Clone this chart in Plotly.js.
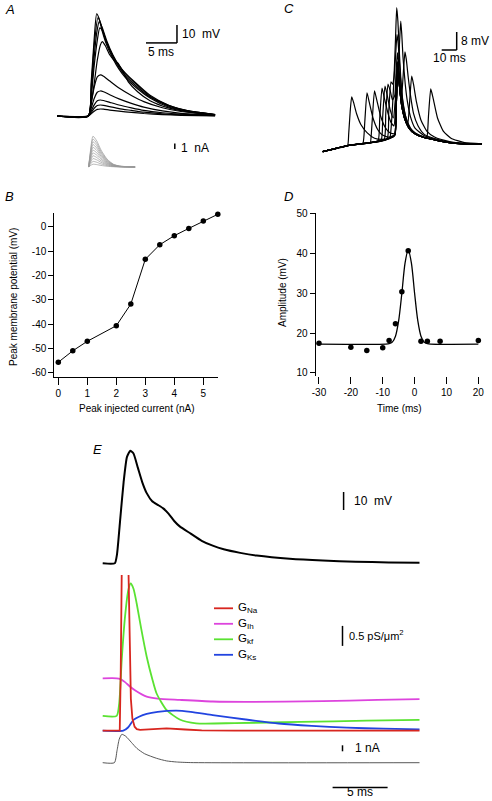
<!DOCTYPE html>
<html><head><meta charset="utf-8">
<script src="https://cdn.plot.ly/plotly-3.0.1.min.js"></script>
<style>html,body{margin:0;padding:0;background:#fff}#plot{width:492px;height:801px}</style>
</head><body><div id="plot"></div>
<script>
// ---------------- DATA ----------------
// Panel A: membrane responses (ms, mV above rest)
const aTimes = [
  [0,5.05,5.5,6.0,6.5,7.0,7.5,8.5,10,12,14,17,20,25.5],
  [0,5.05,5.5,6.0,6.5,7.0,7.5,8.5,10,12,14,17,20,25.5],
  [0,5.05,5.5,6.0,6.5,7.0,7.5,8.5,10,12,14,17,20,25.5],
  [0,5.05,5.5,6.0,6.5,7.0,7.5,8.5,10,12,14,17,20,25.5],
  [0,5.05,5.5,6.0,6.5,7.0,7.5,8.5,10,12,14,17,20,25.5],
  [0,5.05,5.5,6.0,6.5,7.0,7.3,7.8,8.5,9.2,9.8,10.5,11.5,13,15,18,21,25.5],
  [0,5.05,5.5,6.0,6.5,6.9,7.4,8,9,10,11,12.5,15,18,21,25.5],
  [0,5.05,5.5,6.0,6.4,6.8,7.3,8,9,10,11,12.5,15,18,21,25.5],
  [0,5.05,5.5,6.0,6.6,7.0,7.5,8,9,10,11,12.5,15,18,21,25.5],
  [0,5.05,5.5,6.0,6.4,6.8,7.3,8,9,10,11,12.5,15,18,21,25.5]
];
const aVolts = [
  [0,0,1.2,2.7,3.7,3.9,3.8,3.3,2.7,2.0,1.4,0.8,0.4,0.1],
  [0,0,1.8,4.3,5.8,6.1,5.9,5.2,4.1,3.1,2.1,1.2,0.7,0.2],
  [0,0,2.7,6.2,8.5,8.9,8.6,7.6,6.1,4.5,3.1,1.8,1.0,0.3],
  [0,0,4.2,9.7,13.2,13.9,13.5,11.8,9.5,7.0,4.9,2.8,1.5,0.4],
  [0,0,6.8,16,21.7,22.8,22.1,19.4,15.5,11.4,8.0,4.6,2.5,0.7],
  [0,0,7,18,31,39.5,41.3,39,34,31,29.5,25.5,19,13.5,8.5,4.5,2.3,0.6],
  [0,0,10,28,42,49,47,41,33.5,28,23.5,18.5,11,6,3,0.8],
  [0,0,12,33,46,52.4,49,42,34,28,24,19,11.5,6,3,0.8],
  [0,0,15,39,54.6,52,46,41,33,27,22.5,17.5,10.5,5.5,2.8,0.8],
  [0,0,18,43,56.8,54,47,39.5,32,26,21.5,16.5,10,5,2.6,0.7]
];
// Panel A: injected currents (ms, nA)
const aStimT = [5.1,5.35,5.8,6.4,7.1,8.1,9.1,10.1,12.6];
const aStimI = [
  [0,0.23,0.5,0.43,0.28,0.13,0.05,0.02,0],
  [0,0.45,1,0.85,0.55,0.25,0.09,0.03,0],
  [0,0.68,1.5,1.28,0.83,0.38,0.14,0.05,0],
  [0,0.9,2,1.7,1.1,0.5,0.18,0.06,0],
  [0,1.13,2.5,2.13,1.38,0.63,0.23,0.08,0],
  [0,1.35,3,2.55,1.65,0.75,0.27,0.09,0],
  [0,1.58,3.5,2.98,1.93,0.88,0.32,0.11,0],
  [0,1.8,4,3.4,2.2,1,0.36,0.12,0],
  [0,2.03,4.5,3.83,2.48,1.13,0.41,0.14,0],
  [0,2.25,5,4.25,2.75,1.25,0.45,0.15,0],
  [0,2.48,5.5,4.68,3.03,1.38,0.5,0.17,0]
];
// Panel B
const bCurrent = [0,0.5,1,2,2.5,3,3.5,4,4.5,5,5.5];
const bPeak = [-55.7,-51.0,-47.1,-40.7,-31.8,-13.4,-7.4,-3.7,-0.7,2.3,5.1];
const bXTicks = [0,1,2,3,4,5];
const bYTicks = [-60,-50,-40,-30,-20,-10,0];
const bYTickText = ['-60','-50','-40','-30','-20','-10','0'];
// Panel C: ramp + EPSP at different timings (ms rel. to ramp peak, mV)
const cTimes = [
  [-49.5,-40,-33,-32.2,-31.2,-30.2,-29,-27,-24,-20,-15,-10,-6,-3,-1.3,-0.5,0.5,1.5,3,5,8,12,18,25,35,45,56.7],
  [-49.5,-40,-33,-25,-22.7,-21.5,-20,-18.5,-16,-13,-10,-6,-3,-1.3,-0.5,0.5,1.5,3,5,8,12,18,25,35,45,56.7],
  [-49.5,-33,-25,-18,-17.7,-16.5,-15,-13.5,-11,-8,-5,-3,-1.3,-0.5,0.5,1.5,3,5,8,12,18,25,35,45,56.7],
  [-49.5,-33,-20,-12.7,-11.5,-10,-8.5,-6,-4,-2,-1,0,0.6,1.5,3,5,8,12,18,25,35,45,56.7],
  [-49.5,-33,-20,-10.7,-9.5,-8,-6.5,-4.5,-2.5,-1,0,0.6,1.5,3,5,8,12,18,25,35,45,56.7],
  [-49.5,-33,-20,-8.7,-7.5,-6,-4.5,-3,-1.5,-0.5,0.3,1.2,2.5,4,6,9,12,18,25,35,45,56.7],
  [-49.5,-33,-20,-6.7,-5.5,-4,-3,-2,-1,0,0.8,1.8,3,4.5,6.5,9,12,18,25,35,45,56.7],
  [-49.5,-33,-20,-5,-4,-3,-2,-1,-0.2,0.6,1.5,2.5,4,6,9,12,18,25,35,45,56.7],
  [-49.5,-33,-20,-10,-4,-2,-1.3,-0.5,0,0.3,1,1.8,2.5,3.2,4,5.5,7,9,12,18,25,35,45,56.7],
  [-49.5,-33,-20,-10,-4,-2,-1.3,-0.5,0.5,1.5,2.6,3.5,4.5,5.3,6.2,7.5,9,11,14,18,25,35,45,56.7],
  [-49.5,-33,-20,-10,-4,-2,-1.3,-0.5,0.5,1.5,3,5,7.1,8.3,9.8,11,13,16,20,25,35,45,56.7],
  [-49.5,-33,-20,-10,-4,-2,-1.3,-0.5,0.5,1.5,3,5,8,12,18,19.8,21,22.5,24,27,31,36,45,56.7]
];
const cVolts = [
  [0,1.5,2.7,8,18,24.4,22,17,12,8.5,6,5.5,5.9,6.7,7.6,20,37,30,21,15,10.5,8,6.3,5.3,4.0,3.5,3.4],
  [0,1.5,2.7,3.5,3.8,13,26.2,22,15,10,7.5,6.5,7,7.8,20,37,30,21,15,10.5,8,6.3,5.3,4.0,3.5,3.4],
  [0,2.7,3.5,4.1,4.1,14,27.1,23,16,11,8.5,8,8.2,21,37.5,30.5,21,15,10.5,8,6.3,5.3,4.0,3.5,3.4],
  [0,2.7,3.8,4.7,15,28.3,24,17,13,11.5,22,36,38.5,31,21.5,15,10.5,8,6.3,5.3,4.0,3.5,3.4],
  [0,2.7,3.8,4.9,16,29.2,25,18.5,15,24,38,40,32,22,15.5,10.7,8,6.3,5.3,4.0,3.5,3.4],
  [0,2.7,3.8,5.2,17,30.1,27,23,25,37,44,38,27,19,13.5,9.5,8,6.3,5.3,4.0,3.5,3.4],
  [0,2.7,3.8,5.5,18,31.1,30,33,42,52,48,38,27,19.5,14,10,8.2,6.4,5.3,4.0,3.5,3.4],
  [0,2.7,3.8,5.8,10,20,33,50,64,58,45,33,22,15,10.5,8.4,6.5,5.4,4.0,3.5,3.4],
  [0,2.7,3.8,5.0,6.2,7.0,7.6,20,33,37,40,50,58,52,42,30,22,15.5,10.5,7.2,5.6,4.2,3.6,3.4],
  [0,2.7,3.8,5.0,6.2,7.0,7.6,20,37,30,23,28,38,44.4,41,33,25,17,11.5,7.8,5.8,4.2,3.6,3.4],
  [0,2.7,3.8,5.0,6.2,7.0,7.6,20,37,30,21,15,12,21,33.6,30,22,14,9,6.5,4.5,3.7,3.4],
  [0,2.7,3.8,5.0,6.2,7.0,7.6,20,37,30,21,15,10.5,8,6.3,6.0,16,27.9,24,15,9,6,4,3.5]
];
// Panel D
const dTime = [-30,-20,-15,-10,-8,-6,-4,-2,2,4,8,20];
const dAmp = [17.4,16.4,15.6,16.3,18.1,22.3,30.4,40.7,17.9,17.9,17.9,18.1];
const dFitT = [-30,-9,-8,-7,-6,-5,-4,-3,-2,-1,0,1,2,3,4,5,20];
const dFitA = [17.2,17.2,17.3,17.7,19.2,23.1,30.0,37.6,41.0,37.6,30.0,23.1,19.2,17.7,17.3,17.2,17.2];
const dXTicks = [-30,-20,-10,0,10,20];
const dXTickText = ['-30','-20','-10','0','10','20'];
const dYTicks = [10,20,30,40,50];
// Panel E: voltage (ms, mV)
const eT = [0,1.1,1.3,1.6,1.9,2.2,2.5,2.8,3.2,3.6,4.0,4.5,5.0,5.5,6.0,6.5,7.0,8.0,9.0,10,11,12.5,14,17,20,23,26,28.8];
const eV = [0,0,5,25,45,59,62.5,61,53,45,39,34.5,32.5,30.5,27.5,23.5,20.5,16.5,12.5,9.8,7.8,5.8,4.3,2.5,1.5,0.9,0.5,0.3];
// Panel E: conductances (ms, pS/um2)
const gNaT = [0,1.55,1.64,1.75,2.0,2.35,2.48,2.56,2.7,2.9,3.1,3.4,4.5,5.8,7.5,9,12,28.8];
const gNa  = [0,0,1.5,4.5,9,4.5,2.0,0.8,0.3,0.1,0.04,0.02,0.03,0.06,0.03,0.01,0,0];
const gIhT = [0,1.27,1.6,2.0,2.5,3.0,4.0,5.0,7.0,10,13,20,25,28.8];
const gIh  = [1.31,1.31,1.29,1.22,1.1,1.0,0.85,0.8,0.77,0.73,0.72,0.74,0.77,0.79];
const gKfT = [0,1.27,1.5,1.73,2.03,2.33,2.54,2.8,3.09,3.5,4.0,4.5,4.9,5.8,7.0,8.5,12,18,24,28.8];
const gKf  = [0.37,0.37,0.68,1.77,2.85,3.52,3.68,3.55,3.18,2.55,1.85,1.3,0.93,0.52,0.28,0.185,0.19,0.22,0.25,0.27];
const gKsT = [0,1.87,2.3,2.8,3.3,4.0,5.0,6.7,8,10,13,16,19,22.2,25.5,28.8];
const gKs  = [0,0,0.08,0.27,0.35,0.42,0.47,0.5,0.47,0.39,0.28,0.18,0.12,0.075,0.05,0.035];
// Panel E: injected current (ms, nA)
const eIT = [0,1.06,1.3,1.5,1.74,2.1,2.6,3.1,3.8,4.9,5.8,6.7,8,28.8];
const eI  = [0,0,2.0,3.9,4.73,4.4,3.4,2.4,1.5,0.73,0.3,0.12,0.02,0];
const gNames = ['G<sub>Na</sub>','G<sub>Ih</sub>','G<sub>kf</sub>','G<sub>Ks</sub>'];
const gColors = ['#d8261f','#dd44dd','#5ae232','#2244e0'];

// ---------------- LAYOUT HELPERS ----------------
const W = 492, H = 801;
const FONT = 'Liberation Sans, Arial, Helvetica, sans-serif';
function xAx(p0, p1, origin, ppu, extra) {
  return Object.assign({domain:[p0/W, p1/W], range:[(p0-origin)/ppu, (p1-origin)/ppu],
    visible:false, fixedrange:true, showgrid:false, zeroline:false}, extra||{});
}
function yAx(p0, p1, origin, ppu, extra) {
  return Object.assign({domain:[1-p1/H, 1-p0/H], range:[(origin-p1)/ppu, (origin-p0)/ppu],
    visible:false, fixedrange:true, showgrid:false, zeroline:false}, extra||{});
}
function ann(text, x, y, o) {
  o = o || {};
  return {text:text, xref:'paper', yref:'paper', x:x/W, y:1-y/H,
    xanchor:o.xa||'left', yanchor:o.ya||'middle', showarrow:false, textangle:o.angle||0,
    font:{family:FONT, size:o.size||12, color:'#000'}};
}
function bar(xref, yref, x0, y0, x1, y1, w) {
  return {type:'line', xref:xref, yref:yref, x0:x0, y0:y0, x1:x1, y1:y1,
    line:{color:'#000', width:w||1.5}};
}
const visAxis = {visible:true, showline:true, linecolor:'#000', linewidth:1, ticks:'outside',
  tickcolor:'#000', tickwidth:1, tickfont:{family:FONT, size:10, color:'#000'}, tickmode:'array'};

// ---------------- TRACES ----------------
const traces = [];
aTimes.forEach((t, i) => traces.push({x:t, y:aVolts[i], xaxis:'x', yaxis:'y', mode:'lines',
  line:{color:'#000', width:1.2, shape:'spline', smoothing:0.6}, hoverinfo:'skip', showlegend:false}));
aStimI.forEach(v => traces.push({x:aStimT, y:v, xaxis:'x', yaxis:'y2', mode:'lines',
  line:{color:'#9a9a9a', width:0.7, shape:'spline', smoothing:0.6}, hoverinfo:'skip', showlegend:false}));
cTimes.forEach((t, i) => traces.push({x:t, y:cVolts[i], xaxis:'x2', yaxis:'y3', mode:'lines',
  line:{color:'#000', width:1.2, shape:'spline', smoothing:0.5}, hoverinfo:'skip', showlegend:false}));
traces.push({x:bCurrent, y:bPeak, xaxis:'x3', yaxis:'y4', mode:'lines+markers', cliponaxis:false,
  line:{color:'#000', width:1}, marker:{color:'#000', size:5.5}, showlegend:false});
traces.push({x:dFitT, y:dFitA, xaxis:'x4', yaxis:'y5', mode:'lines',
  line:{color:'#000', width:1.3, shape:'spline', smoothing:0.8}, showlegend:false});
traces.push({x:dTime, y:dAmp, xaxis:'x4', yaxis:'y5', mode:'markers', cliponaxis:false,
  marker:{color:'#000', size:5.5}, showlegend:false});
traces.push({x:eT, y:eV, xaxis:'x5', yaxis:'y6', mode:'lines',
  line:{color:'#000', width:2, shape:'spline', smoothing:0.5}, showlegend:false});
const gT = [gNaT, gIhT, gKfT, gKsT], gV = [gNa, gIh, gKf, gKs];
[1,2,3,0].forEach(i => traces.push({x:gT[i], y:gV[i], xaxis:'x5', yaxis:'y7', mode:'lines',
  line:{color:gColors[i], width:1.8, shape: i===0 ? 'linear' : 'spline', smoothing:0.6},
  showlegend:false}));
traces.push({x:eIT, y:eI, xaxis:'x5', yaxis:'y8', mode:'lines',
  line:{color:'#444', width:0.9, shape:'spline', smoothing:0.6}, showlegend:false});

// ---------------- AXES ----------------
const layout = {
  width:W, height:H, margin:{l:0, r:0, t:0, b:0, autoexpand:false},
  paper_bgcolor:'#fff', plot_bgcolor:'rgba(0,0,0,0)', showlegend:false,
  font:{family:FONT, size:10, color:'#000'},
  // A
  xaxis:  xAx(50, 232, 57, 6.2, {anchor:'y'}),
  yaxis:  yAx(5, 122, 116, 1.8, {anchor:'x'}),
  yaxis2: yAx(125, 172, 167, 5.6, {anchor:'x'}),
  // C
  xaxis2: xAx(315, 492, 397, 1.5, {anchor:'y3'}),
  yaxis3: yAx(0, 160, 151.7, 2.25, {anchor:'x2'}),
  // B
  xaxis3: xAx(54.3, 218, 58.3, 29, Object.assign({}, visAxis, {anchor:'y4', ticklen:7,
           tickvals:bXTicks, ticktext:bXTicks.map(String)})),
  yaxis4: yAx(213.3, 377.3, 226.7, 2.433, Object.assign({}, visAxis, {anchor:'x3', ticklen:5,
           tickvals:bYTicks, ticktext:bYTickText})),
  // D
  xaxis4: xAx(315.7, 480.5, 414.6, 3.187, Object.assign({}, visAxis, {anchor:'y5', showline:false,
           ticklen:7, tickvals:dXTicks, ticktext:dXTickText})),
  yaxis5: yAx(213.2, 376, 412.4, 3.97, Object.assign({}, visAxis, {anchor:'x4', ticklen:5,
           tickvals:dYTicks, ticktext:dYTicks.map(String)})),
  // E
  xaxis5: xAx(95, 445, 102.7, 11, {anchor:'y6'}),
  yaxis6: yAx(440, 570, 563.3, 1.8, {anchor:'x5'}),
  yaxis7: yAx(575, 735, 730.7, 40, {anchor:'x5'}),
  yaxis8: yAx(733, 775, 762.7, 6, {anchor:'x5'}),
  shapes: [
    // A scale bars: 10 mV, 5 ms, 1 nA
    bar('x','y', 19.35, 40.6, 19.35, 50.6),
    bar('x','y', 14.35, 40.6, 19.35, 40.6),
    bar('x','y2', 19.0, 3.2, 19.0, 4.2),
    // C scale bars: 8 mV, 10 ms
    bar('x2','y3', 39.8, 45.2, 39.8, 53.2),
    bar('x2','y3', 29.8, 45.2, 39.8, 45.2),
    // E scale bars: 10 mV, 0.5 pS/um2, 1 nA, 5 ms
    bar('x5','y6', 21.9, 29.6, 21.9, 39.6),
    bar('x5','y7', 21.8, 2.12, 21.8, 2.62),
    bar('x5','y8', 21.8, 1.9, 21.8, 2.9),
    {type:'line', xref:'x5', yref:'paper', x0:20.9, x1:25.9, y0:1-787.5/H, y1:1-787.5/H, line:{color:'#000', width:1.5}},
    // legend swatches
    ...gColors.map((c, i) => ({type:'line', xref:'paper', yref:'paper',
      x0:214/W, x1:233/W, y0:1-(608.3+15.5*i)/H, y1:1-(608.3+15.5*i)/H, line:{color:c, width:1.8}}))
  ],
  annotations: [
    ann('<i>A</i>', 3, 9, {size:13}),
    ann('<i>C</i>', 282, 8, {size:13}),
    ann('<i>B</i>', 3, 197, {size:13}),
    ann('<i>D</i>', 282, 197, {size:13}),
    ann('<i>E</i>', 91, 449, {size:13}),
    ann('10  mV', 180, 34, {size:12}),
    ann('5 ms', 161, 52, {size:12, xa:'center'}),
    ann('1  nA', 179, 148, {size:12}),
    ann('8 mV', 459, 41, {size:12}),
    ann('10 ms', 449, 58, {size:12, xa:'center'}),
    ann('Peak injected current (nA)', 137, 408, {size:10, xa:'center'}),
    ann('Peak membrane potential (mV)', 13, 297, {size:10, xa:'center', angle:-90}),
    ann('Time (ms)', 399, 408, {size:10, xa:'center'}),
    ann('Amplitude (mV)', 282, 293, {size:10, xa:'center', angle:-90}),
    ann('10  mV', 352, 501, {size:12}),
    ann('0.5 pS/\u03bcm<sup>2</sup>', 347, 635, {size:11}),
    ann('1 nA', 353, 748, {size:12}),
    ann('5 ms', 360, 801, {size:12, xa:'center', ya:'bottom'}),
    ...gNames.map((n, i) => ann(n, 236, 608.3 + 15.5*i, {size:11.5}))
  ]
};
Plotly.newPlot('plot', traces, layout, {staticPlot:true, displayModeBar:false});
</script></body></html>
